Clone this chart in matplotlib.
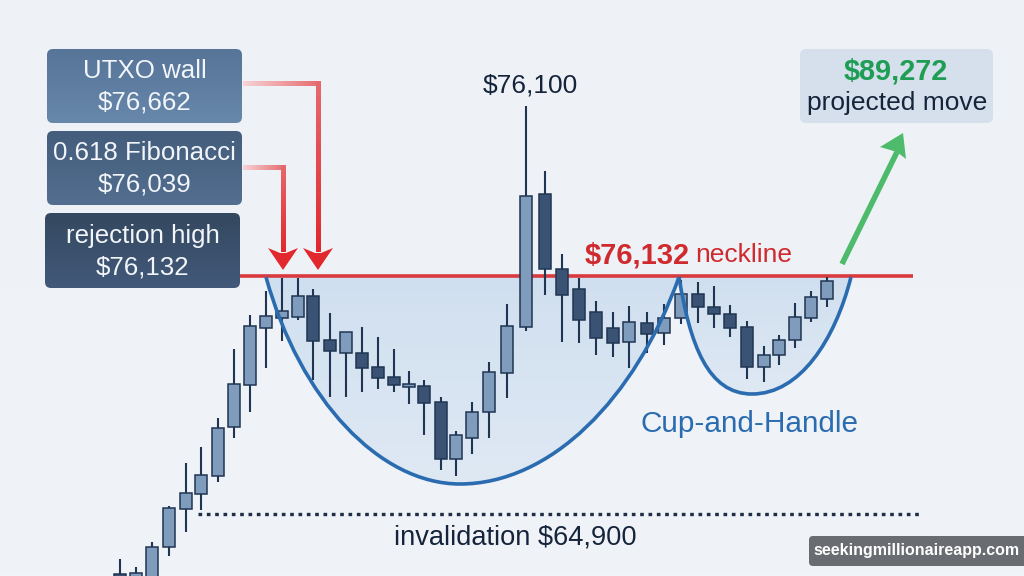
import numpy as np
import matplotlib
matplotlib.use('Agg')
import matplotlib.pyplot as plt
from matplotlib.colors import LinearSegmentedColormap
from matplotlib.patches import FancyBboxPatch, PathPatch, Polygon
from matplotlib.path import Path

plt.rcParams['font.family'] = ['Liberation Sans', 'DejaVu Sans']

# candles (canvas is 1024x576, y grows downward)
candle_x = [120, 136, 152, 169, 186, 201, 218, 234, 250, 266, 282, 298, 313, 330, 346, 362, 378, 394,
            409, 424, 441, 456, 472, 489, 507, 526, 545, 562, 579, 596, 613, 629, 647, 664,
            681, 698, 714, 730, 747, 764, 779, 795, 811, 827]
wick_high = [559, 567, 542, 506, 463, 447, 418, 349, 315, 291, 278, 278, 289, 313, 332, 327, 337, 349,
             371, 380, 397, 431, 402, 362, 304, 106, 171, 254, 278, 301, 312, 306, 312, 304,
             280, 282, 286, 305, 321, 346, 335, 303, 291, 277]
wick_low = [580, 580, 580, 556, 532, 510, 482, 438, 412, 368, 341, 320, 380, 397, 397, 392, 389, 392,
            404, 435, 470, 476, 454, 438, 398, 331, 295, 342, 343, 355, 357, 368, 353, 345,
            324, 323, 328, 337, 379, 382, 365, 348, 322, 307]
body_top = [574, 573, 547, 508, 493, 475, 428, 384, 326, 316, 311, 296, 296, 340, 332, 353, 367, 377,
            384, 386, 402, 435, 412, 372, 326, 196, 194, 269, 289, 312, 328, 322, 323, 318,
            294, 294, 307, 314, 327, 355, 340, 317, 297, 281]
body_bottom = [580, 580, 580, 547, 509, 494, 476, 427, 385, 328, 318, 317, 341, 351, 353, 368, 378, 385,
               387, 403, 459, 459, 438, 412, 373, 327, 269, 295, 320, 338, 343, 342, 334, 333,
               318, 307, 314, 328, 367, 367, 355, 340, 318, 299]
is_light = [0, 1, 1, 1, 1, 1, 1, 1, 1, 1, 1, 1, 0, 0, 1, 0, 0, 0,
            1, 0, 0, 1, 1, 1, 1, 1, 0, 0, 0, 0, 0, 1, 0, 1,
            1, 0, 0, 0, 0, 1, 1, 1, 1, 1]

neckline_y = 276
neckline_x = (240, 913)
invalidation_y = 514
invalidation_x = (198, 922)

# bezier knots of the two bowls
cup_pts = [(266, 277), (300, 400), (380, 484), (460, 484), (550, 484), (635, 400), (679, 277)]
handle_pts = [(679, 277), (690, 345), (708, 394), (752, 394), (800, 394), (835, 340), (851, 277)]

box_labels = ['UTXO wall\n$76,662', '0.618 Fibonacci\n$76,039', 'rejection high\n$76,132']
box_rects = [(47, 49, 195, 74), (47, 131, 195, 74), (45, 213, 195, 75)]
box_colors = [('#567598', '#6787ab'), ('#445d7c', '#536e8f'), ('#34485f', '#42597a')]

connector_a = [(243, 84), (318, 84), (318, 252)]
connector_b = [(243, 168), (283, 168), (283, 252)]

up_arrow = [(842, 264), (897, 152)]
up_arrow_head = [(903, 133), (880, 147), (897, 152), (906, 159)]

fig = plt.figure(figsize=(10.24, 5.76), dpi=100)
ax = fig.add_axes([0, 0, 1, 1])
ax.set_xlim(0, 1024)
ax.set_ylim(576, 0)
ax.axis('off')


def gradient(c1, c2, extent, z, horizontal=False, clip=None):
    cmap = LinearSegmentedColormap.from_list('g', [c1, c2])
    g = np.linspace(0, 1, 128).reshape(-1, 1)
    if horizontal:
        g = g.T
    im = ax.imshow(g, cmap=cmap, extent=extent, aspect='auto', zorder=z, interpolation='bilinear')
    if clip is not None:
        im.set_clip_path(clip)
    return im


def bowl_path(pts):
    codes = [Path.MOVETO] + [Path.CURVE4] * (len(pts) - 1)
    return Path(pts, codes)


def connector(pts):
    # fades from pale pink by the box to full red at the arrow
    (x0, y0), (x1, y1), (x2, y2) = pts
    half = 2.5
    gradient('#f6d3d5', '#e66a6e', (x0, x1 + half, y0 + half, y0 - half), 6, horizontal=True)
    gradient('#e66a6e', '#e0282d', (x1 - half, x1 + half, y2, y1 - half), 6)
    ax.add_patch(Polygon([(x2 - 15, y2 - 4), (x2 - 3, y2 + 1), (x2 + 3, y2 + 1), (x2 + 15, y2 - 4), (x2, y2 + 18)],
                         closed=True, fc='#e0282d', ec='none', zorder=7))


gradient('#eef2f7', '#f0f3f7', (0, 1024, 576, 0), 0)

# cup and handle fills
for pts, z in [(cup_pts, 1), (handle_pts, 1)]:
    patch = PathPatch(bowl_path(pts), fc='none', ec='none', transform=ax.transData)
    ax.add_patch(patch)
    top, bot = pts[0][1], pts[3][1]
    gradient('#d0dfef', '#dfe9f4', (pts[0][0], pts[-1][0], bot, top), z, clip=patch)

ax.plot(neckline_x, [neckline_y, neckline_y], color='#d93a3e', lw=2.6, zorder=2, solid_capstyle='butt')

# candles
fills = ['#7f9cbd' if v else '#3a5375' for v in is_light]
ax.vlines(candle_x, wick_high, wick_low, color='#1f3552', lw=1.5, zorder=3)
ax.bar(candle_x, np.array(body_bottom) - np.array(body_top), bottom=body_top, width=11.5,
       color=fills, edgecolor='#1f3552', linewidth=1.1, zorder=4)

for pts in (cup_pts, handle_pts):
    ax.add_patch(PathPatch(bowl_path(pts), fc='none', ec='#2b6cb0', lw=2.6, zorder=5, capstyle='butt'))

ax.plot(invalidation_x, [invalidation_y, invalidation_y], color='#1f2f45', lw=2.4,
        linestyle=(0, (1.1, 1.4)), zorder=3, dash_capstyle='butt')

# label boxes
for (x, y, w, h), (c1, c2), label in zip(box_rects, box_colors, box_labels):
    patch = FancyBboxPatch((x, y), w, h, boxstyle='round,pad=0,rounding_size=6', fc='none', ec='none')
    ax.add_patch(patch)
    gradient(c1, c2, (x, x + w, y + h, y), 6, clip=patch)
    ax.text(x + w / 2, y + h / 2 + 1, label, color='#f2f5f9', fontsize=18.6, ha='center', va='center',
            linespacing=1.4, zorder=8)

connector(connector_a)
connector(connector_b)

# projected move
patch = FancyBboxPatch((800, 49), 193, 74, boxstyle='round,pad=0,rounding_size=6', fc='#d5e0ec', ec='none', zorder=6)
ax.add_patch(patch)
ax.text(896, 71, '$89,272', color='#1f9d55', fontsize=20.8, fontweight='bold', ha='center', va='center', zorder=8)
ax.text(897, 103, 'projected move', color='#15243a', fontsize=19, ha='center', va='center', zorder=8)
ax.plot(*zip(*up_arrow), color='#4dbb6b', lw=4, zorder=6, solid_capstyle='butt')
ax.add_patch(Polygon(up_arrow_head, closed=True, fc='#4dbb6b', ec='none', zorder=6))

ax.text(530, 85, '$76,100', color='#15243a', fontsize=19, ha='center', va='center', zorder=8)
ax.text(585, 255, '$76,132', color='#cf2a2e', fontsize=21, fontweight='bold', ha='left', va='center', zorder=8)
ax.text(695, 255, 'neckline', color='#cf2a2e', fontsize=19, ha='left', va='center', zorder=8)
ax.text(750, 424, 'Cup-and-Handle', color='#2b6cb0', fontsize=21.4, ha='center', va='center', zorder=8)
ax.text(515, 537, 'invalidation $64,900', color='#15243a', fontsize=19.6, ha='center', va='center', zorder=8)

# watermark
ax.add_patch(FancyBboxPatch((809, 536), 230, 30, boxstyle='round,pad=0,rounding_size=4', fc='#62656a', ec='none',
                            alpha=0.95, zorder=9))
ax.text(917, 551, 'seekingmillionaireapp.com', color='white', fontsize=11.5, fontweight='bold', ha='center',
        va='center', zorder=10)

fig.savefig('out.png', dpi=100)
